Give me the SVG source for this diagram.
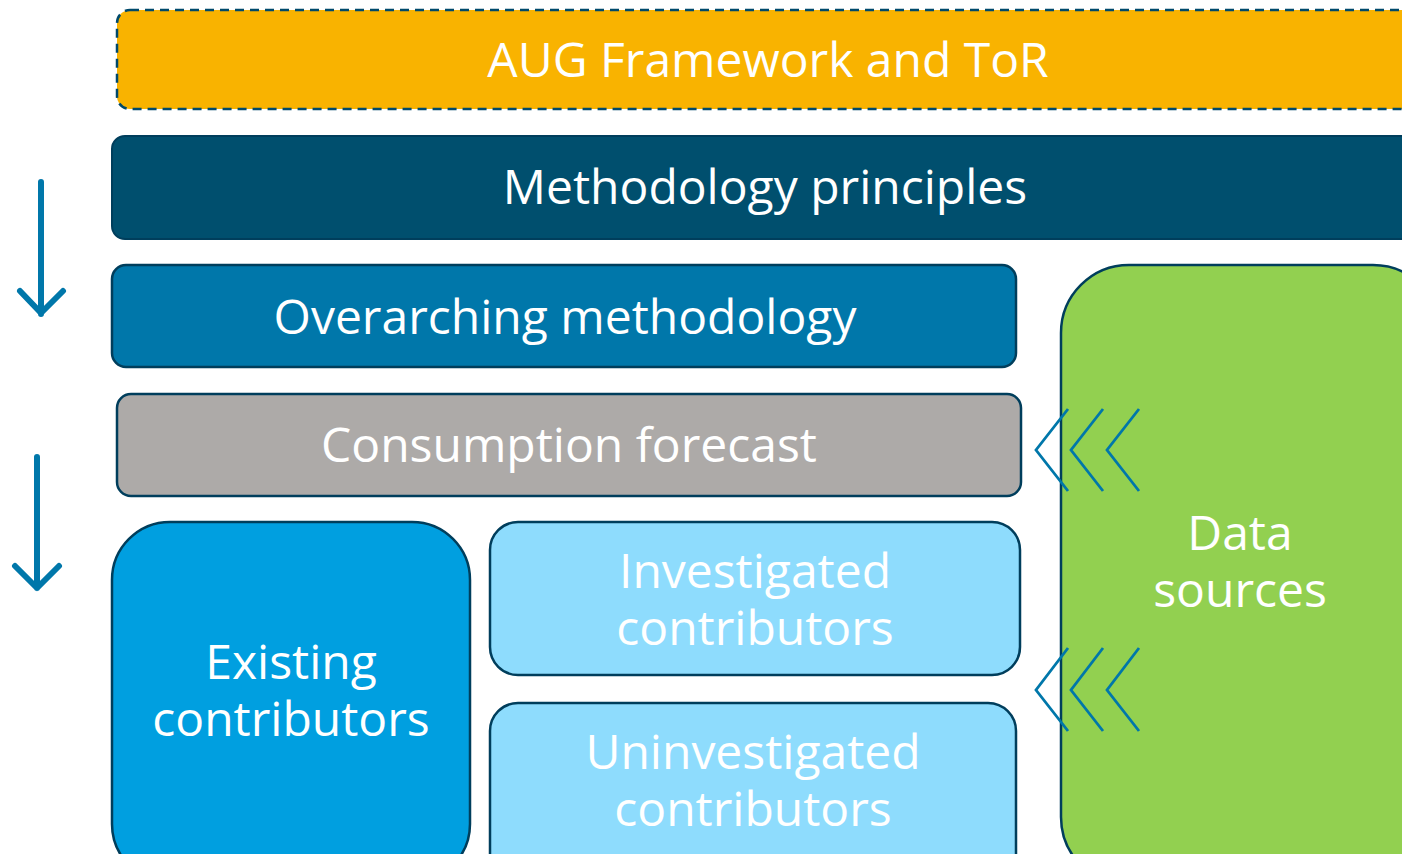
<svg xmlns="http://www.w3.org/2000/svg" width="1402" height="854" viewBox="0 0 1402 854">
  <style>
    .lbl { font-family: "Open Sans", "Noto Sans", "Liberation Sans", sans-serif; font-size: 48px; fill: #ffffff; text-anchor: middle; }
    .box { stroke: #003E5C; stroke-width: 2.5; }
    .down { fill: none; stroke: #0077AA; stroke-width: 6; stroke-linecap: round; stroke-linejoin: round; }
    .chev { fill: none; stroke: #0077AA; stroke-width: 2.8; }
  </style>
  <rect width="1402" height="854" fill="#ffffff"/>

  <g id="aug-framework">
    <rect x="117" y="10" width="1310" height="99" rx="13" fill="#F9B300" stroke="#00496B" stroke-width="2.5" stroke-dasharray="9 6"/>
    <text class="lbl" x="768" y="77">AUG Framework and ToR</text>
  </g>

  <g id="methodology-principles">
    <rect x="112" y="136" width="1310" height="103" rx="13" fill="#004F6E" stroke="#003E5C" stroke-width="2"/>
    <text class="lbl" x="765" y="204">Methodology principles</text>
  </g>

  <g id="overarching-methodology">
    <rect class="box" x="112" y="265" width="904" height="102" rx="14" fill="#0077AA"/>
    <text class="lbl" x="565" y="334">Overarching methodology</text>
  </g>

  <g id="consumption-forecast">
    <rect class="box" x="117" y="394" width="904" height="102" rx="14" fill="#ADAAA8"/>
    <text class="lbl" x="569" y="462">Consumption forecast</text>
  </g>

  <g id="existing-contributors">
    <rect class="box" x="112" y="522" width="358" height="360" rx="58" fill="#009FE0"/>
    <text class="lbl" x="291" y="679">Existing</text>
    <text class="lbl" x="291" y="736">contributors</text>
  </g>

  <g id="investigated-contributors">
    <rect class="box" x="490" y="522" width="530" height="153" rx="28" fill="#8EDCFD"/>
    <text class="lbl" x="755" y="588">Investigated</text>
    <text class="lbl" x="755" y="645">contributors</text>
  </g>

  <g id="uninvestigated-contributors">
    <rect class="box" x="490" y="703" width="526" height="180" rx="28" fill="#8EDCFD"/>
    <text class="lbl" x="753" y="769">Uninvestigated</text>
    <text class="lbl" x="753" y="826">contributors</text>
  </g>

  <g id="data-sources">
    <rect class="box" x="1061" y="265" width="380" height="620" rx="68" fill="#92D050"/>
    <text class="lbl" x="1240" y="550">Data</text>
    <text class="lbl" x="1240" y="607">sources</text>
  </g>

  <g id="connectors">
    <!-- downward flow arrows on the left -->
    <path class="down" d="M41 182 V314 M20 291 L41 313 L63 291"/>
    <path class="down" d="M37 457 V588 M15 566 L37 588 L59 566"/>
    <!-- chevrons from data sources into the forecast -->
    <path class="chev" d="M1068 409 L1036 450 L1068 491"/>
    <path class="chev" d="M1103 409 L1071 450 L1103 491"/>
    <path class="chev" d="M1139 409 L1107 450 L1139 491"/>
    <!-- chevrons from data sources into the contributors -->
    <path class="chev" d="M1068 648 L1036 690 L1068 731"/>
    <path class="chev" d="M1103 648 L1071 690 L1103 731"/>
    <path class="chev" d="M1139 648 L1107 690 L1139 731"/>
  </g>
</svg>
